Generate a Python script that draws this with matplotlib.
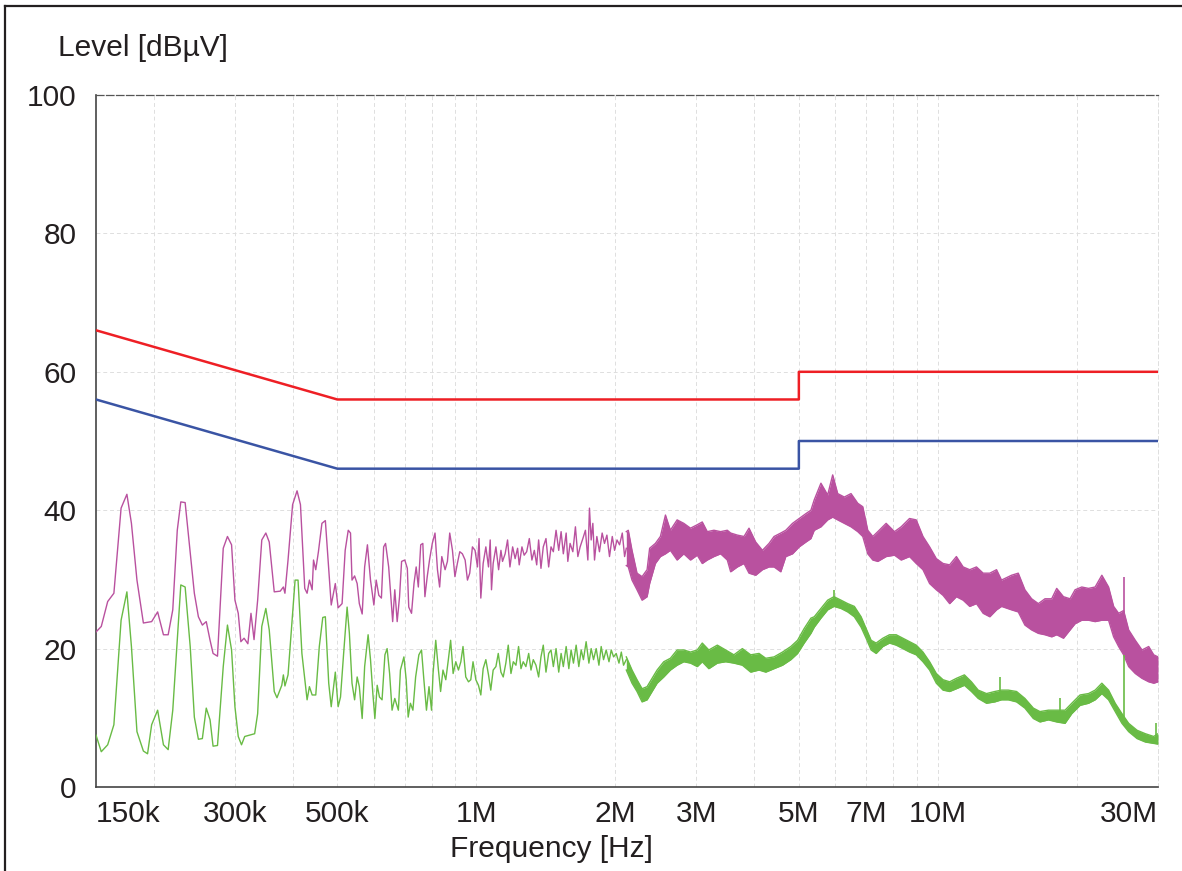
import matplotlib
matplotlib.use("Agg")
import matplotlib.pyplot as plt
from matplotlib.lines import Line2D

plt.rcParams['font.family'] = ['Liberation Sans', 'DejaVu Sans']

# limit lines (MHz, dBuV)
limit_freq = [0.15, 0.5, 5.0, 5.0, 30.0]
limit_qp = [66, 56, 56, 60, 60]
limit_avg = [56, 46, 46, 50, 50]

# peak detector trace, resolved part (MHz, dBuV)
pk_freq = [0.150, 0.154, 0.159, 0.164, 0.170, 0.175, 0.179, 0.184, 0.190, 0.198,
           0.204, 0.210, 0.215, 0.220, 0.225, 0.229, 0.234, 0.240, 0.245, 0.250,
           0.255, 0.260, 0.265, 0.269, 0.275, 0.283, 0.289, 0.295, 0.300, 0.305,
           0.309, 0.314, 0.320, 0.325, 0.330, 0.336, 0.343, 0.350, 0.356, 0.365,
           0.376, 0.382, 0.385, 0.391, 0.400, 0.409, 0.416, 0.425, 0.430, 0.435,
           0.441, 0.444, 0.449, 0.455, 0.463, 0.471, 0.479, 0.485, 0.495, 0.502,
           0.512, 0.520, 0.528, 0.534, 0.538, 0.545, 0.552, 0.558, 0.566, 0.573,
           0.581, 0.590, 0.600, 0.607, 0.615, 0.623, 0.630, 0.636, 0.646, 0.659,
           0.666, 0.674, 0.682, 0.689, 0.700, 0.709, 0.714, 0.724, 0.733, 0.741,
           0.749, 0.758, 0.766, 0.774, 0.783, 0.792, 0.803, 0.814, 0.824, 0.833,
           0.842, 0.856, 0.866, 0.876, 0.888, 0.899, 0.910, 0.921, 0.933, 0.946,
           0.957, 0.968, 0.981, 0.994, 1.006, 1.014, 1.023, 1.035, 1.049, 1.063,
           1.072, 1.079, 1.088, 1.103, 1.118, 1.131, 1.140, 1.155, 1.169, 1.183,
           1.199, 1.214, 1.229, 1.239, 1.256, 1.270, 1.286, 1.303, 1.320, 1.336,
           1.352, 1.365, 1.381, 1.397, 1.416, 1.435, 1.452, 1.469, 1.489, 1.509,
           1.527, 1.544, 1.566, 1.579, 1.597, 1.619, 1.640, 1.660, 1.679, 1.702,
           1.724, 1.745, 1.759, 1.774, 1.789, 1.804, 1.825, 1.849, 1.874, 1.896,
           1.919, 1.944, 1.971, 1.994, 2.018, 2.044, 2.072, 2.096, 2.114]
pk_level = [22.4, 23.2, 26.8, 28.0, 40.3, 42.3, 38.1, 29.9, 23.7, 23.9,
            25.3, 22.0, 22.0, 25.6, 37.1, 41.2, 41.1, 33.8, 28.0, 24.6,
            23.4, 23.9, 21.2, 19.3, 18.9, 34.5, 36.2, 35.0, 27.0, 25.1,
            21.0, 21.5, 20.7, 25.1, 21.3, 27.0, 35.7, 36.7, 35.4, 28.2,
            28.3, 28.9, 28.0, 32.8, 40.8, 42.8, 40.8, 28.7, 28.0, 29.9,
            28.5, 32.8, 31.4, 34.0, 38.1, 38.5, 31.4, 26.3, 29.4, 25.9,
            26.5, 34.2, 37.1, 36.7, 29.9, 30.5, 29.4, 26.5, 25.0, 31.8,
            35.0, 29.9, 26.3, 29.9, 27.7, 27.3, 34.7, 35.2, 31.8, 23.9,
            28.5, 23.9, 27.5, 32.6, 32.8, 31.6, 26.0, 25.1, 29.4, 31.8,
            28.9, 35.0, 35.2, 27.5, 30.4, 32.8, 35.2, 36.7, 31.4, 28.9,
            33.3, 31.4, 32.6, 36.7, 34.2, 30.4, 32.3, 34.0, 33.7, 32.8,
            29.9, 30.9, 34.7, 34.2, 31.8, 35.9, 27.3, 32.3, 34.7, 31.8,
            35.7, 28.5, 32.3, 34.7, 31.4, 34.2, 32.6, 33.7, 35.7, 31.8,
            34.7, 33.0, 34.5, 32.1, 34.7, 33.5, 34.0, 35.9, 32.8, 34.2,
            32.1, 35.7, 31.6, 34.7, 35.9, 31.8, 34.7, 34.0, 37.1, 34.2,
            36.9, 33.7, 36.7, 32.6, 35.2, 34.0, 37.6, 33.3, 34.7, 35.9,
            37.1, 32.8, 40.3, 35.7, 38.1, 32.8, 36.2, 34.0, 36.7, 35.2,
            36.4, 33.3, 36.2, 34.2, 35.7, 35.0, 36.7, 33.3, 34.5]

# peak detector trace, dense part: upper / lower edge of the noise band
pk_band_freq = [2.114, 2.135, 2.175, 2.230, 2.287, 2.345, 2.375, 2.444, 2.506, 2.570,
                2.634, 2.724, 2.816, 2.912, 3.012, 3.088, 3.166, 3.273, 3.384, 3.499,
                3.558, 3.679, 3.803, 3.899, 4.031, 4.169, 4.309, 4.418, 4.569, 4.685,
                4.845, 5.008, 5.178, 5.310, 5.399, 5.582, 5.773, 5.919, 6.069, 6.273,
                6.486, 6.708, 6.878, 7.051, 7.231, 7.414, 7.728, 8.057, 8.330, 8.685,
                8.980, 9.287, 9.600, 9.926, 10.265, 10.609, 10.972, 11.347, 11.727, 12.128,
                12.540, 12.962, 13.405, 13.742, 14.449, 14.940, 15.443, 15.969, 16.515, 17.071,
                17.651, 18.099, 18.718, 19.346, 19.837, 20.510, 21.211, 21.926, 22.671, 23.444,
                24.042, 24.648, 25.273, 25.914, 26.784, 27.700, 28.640, 29.368, 30.0]
pk_band_hi = [36.9, 37.1, 34.2, 30.9, 30.4, 31.4, 34.5, 35.2, 36.2, 39.3,
              37.1, 38.6, 38.1, 37.4, 37.9, 38.3, 36.9, 37.1, 36.9, 37.1,
              36.7, 36.4, 36.2, 37.4, 35.4, 34.2, 35.2, 36.2, 36.7, 37.1,
              38.1, 38.8, 39.5, 40.0, 41.5, 43.9, 42.2, 45.1, 42.4, 41.9,
              42.4, 41.0, 40.5, 37.1, 36.2, 36.9, 38.1, 36.9, 37.6, 38.8,
              38.6, 36.2, 34.7, 33.0, 32.3, 32.1, 33.3, 31.8, 31.4, 31.8,
              30.9, 30.9, 31.4, 29.9, 30.6, 30.9, 28.5, 27.2, 26.5, 27.2,
              27.2, 28.7, 27.5, 27.2, 28.5, 28.9, 28.7, 28.9, 30.6, 28.9,
              26.1, 25.1, 25.5, 22.7, 21.2, 19.8, 20.3, 19.1, 18.8]
pk_band_lo = [32.0, 31.8, 29.9, 28.5, 27.0, 27.5, 29.4, 32.3, 33.3, 33.7,
              34.2, 32.8, 33.7, 32.8, 33.5, 32.3, 32.8, 33.3, 33.7, 32.8,
              31.1, 31.8, 32.3, 30.9, 30.6, 31.4, 31.8, 31.8, 31.1, 33.3,
              33.7, 34.7, 35.4, 35.9, 37.1, 37.6, 38.6, 39.0, 38.6, 38.1,
              37.6, 36.9, 36.2, 33.7, 32.8, 32.6, 33.3, 33.5, 32.8, 33.3,
              32.3, 31.4, 29.4, 28.5, 27.7, 26.5, 27.5, 27.0, 26.1, 26.5,
              25.1, 24.6, 25.6, 26.1, 25.6, 25.3, 23.4, 22.7, 22.2, 22.0,
              21.7, 22.0, 21.5, 22.7, 23.6, 24.1, 24.1, 23.9, 24.1, 24.1,
              21.7, 20.3, 19.1, 17.4, 16.4, 15.7, 15.2, 15.0, 15.2]

# average detector trace, resolved part (MHz, dBuV)
av_freq = [0.150, 0.154, 0.159, 0.164, 0.170, 0.175, 0.179, 0.184, 0.190, 0.194,
           0.198, 0.204, 0.210, 0.215, 0.220, 0.229, 0.234, 0.240, 0.245, 0.250,
           0.255, 0.260, 0.265, 0.269, 0.275, 0.283, 0.289, 0.295, 0.300, 0.305,
           0.310, 0.315, 0.331, 0.336, 0.343, 0.350, 0.356, 0.365, 0.370, 0.379,
           0.382, 0.385, 0.391, 0.400, 0.405, 0.411, 0.419, 0.430, 0.435, 0.441,
           0.449, 0.457, 0.465, 0.471, 0.479, 0.485, 0.495, 0.502, 0.508, 0.516,
           0.525, 0.531, 0.538, 0.545, 0.552, 0.558, 0.566, 0.573, 0.583, 0.590,
           0.597, 0.603, 0.610, 0.617, 0.625, 0.634, 0.641, 0.649, 0.657, 0.666,
           0.678, 0.685, 0.697, 0.705, 0.712, 0.720, 0.729, 0.739, 0.751, 0.761,
           0.770, 0.780, 0.790, 0.800, 0.806, 0.817, 0.828, 0.837, 0.847, 0.859,
           0.870, 0.880, 0.891, 0.903, 0.915, 0.926, 0.936, 0.949, 0.962, 0.973,
           0.984, 0.998, 1.011, 1.023, 1.035, 1.049, 1.063, 1.075, 1.088, 1.103,
           1.116, 1.131, 1.144, 1.159, 1.173, 1.189, 1.203, 1.219, 1.235, 1.250,
           1.264, 1.281, 1.299, 1.314, 1.329, 1.347, 1.365, 1.381, 1.397, 1.416,
           1.435, 1.452, 1.469, 1.489, 1.509, 1.527, 1.544, 1.566, 1.587, 1.605,
           1.624, 1.646, 1.668, 1.688, 1.707, 1.730, 1.754, 1.774, 1.795, 1.819,
           1.844, 1.865, 1.887, 1.912, 1.939, 1.961, 1.984, 2.010, 2.038, 2.062,
           2.085, 2.114]
av_level = [7.5, 5.1, 6.1, 9.0, 24.1, 28.2, 20.3, 8.0, 5.2, 4.8,
            9.0, 11.1, 6.1, 5.4, 11.1, 29.2, 28.9, 20.3, 10.1, 6.9,
            7.0, 11.4, 9.7, 5.9, 6.0, 17.4, 23.4, 19.8, 11.6, 7.3,
            6.1, 7.3, 7.7, 10.6, 23.2, 25.8, 22.7, 13.8, 12.9, 14.7,
            16.2, 14.6, 16.2, 25.1, 29.9, 29.9, 19.3, 12.6, 14.5, 13.3,
            13.3, 20.3, 24.5, 24.6, 15.0, 11.6, 16.6, 11.6, 13.0, 19.3,
            26.0, 22.2, 15.0, 12.6, 15.9, 14.5, 9.9, 17.4, 22.0, 18.4,
            13.5, 9.9, 14.7, 13.0, 12.6, 19.1, 20.0, 16.4, 11.1, 12.8,
            11.1, 16.9, 18.8, 15.5, 10.1, 12.1, 11.1, 15.9, 19.1, 19.8,
            15.5, 11.1, 14.5, 11.1, 16.4, 21.2, 16.9, 13.8, 16.9, 15.5,
            18.4, 21.2, 16.4, 18.1, 16.9, 18.1, 20.3, 15.9, 15.2, 15.5,
            18.1, 15.5, 14.7, 13.3, 17.1, 18.4, 16.2, 14.0, 16.9, 17.4,
            19.3, 16.6, 15.9, 17.9, 20.5, 16.4, 18.1, 17.6, 20.3, 17.1,
            18.1, 17.4, 19.3, 16.9, 18.4, 17.6, 15.9, 18.8, 20.5, 16.6,
            19.3, 19.8, 17.4, 20.0, 16.6, 19.3, 17.4, 20.3, 17.1, 19.8,
            17.9, 20.5, 17.4, 19.8, 18.4, 21.0, 17.9, 20.0, 18.4, 20.0,
            17.6, 20.3, 18.4, 19.8, 18.1, 19.8, 18.8, 19.3, 17.9, 19.5,
            17.6, 18.4]

# average detector trace, dense part: upper / lower edge of the noise band
av_band_freq = [2.114, 2.175, 2.230, 2.287, 2.345, 2.404, 2.465, 2.548, 2.634, 2.724,
                2.816, 2.912, 3.012, 3.088, 3.191, 3.329, 3.470, 3.616, 3.772, 3.932,
                4.099, 4.239, 4.418, 4.609, 4.804, 4.968, 5.134, 5.310, 5.399, 5.582,
                5.773, 5.957, 6.169, 6.380, 6.594, 6.820, 6.993, 7.170, 7.352, 7.603,
                7.857, 8.126, 8.401, 8.685, 8.980, 9.287, 9.600, 9.926, 10.265, 10.609,
                10.972, 11.420, 11.826, 12.232, 12.749, 13.290, 13.742, 14.212, 14.812, 15.443,
                16.105, 16.648, 17.366, 18.099, 18.866, 19.510, 20.336, 21.211, 21.926, 22.671,
                23.444, 24.232, 25.059, 25.914, 27.019, 28.163, 29.368, 30.0]
av_band_hi = [18.8, 16.9, 15.5, 14.2, 14.5, 15.7, 16.9, 18.1, 18.6, 19.8,
              19.8, 19.5, 19.8, 20.8, 19.8, 20.5, 19.8, 19.1, 20.0, 19.1,
              19.3, 18.6, 18.8, 19.5, 20.3, 21.2, 22.9, 24.4, 24.6, 25.8,
              27.0, 27.5, 27.0, 26.5, 26.1, 24.6, 22.9, 21.2, 20.8, 21.5,
              22.0, 22.0, 21.5, 21.0, 20.5, 19.5, 18.1, 16.4, 15.5, 15.2,
              15.7, 16.2, 15.2, 14.0, 13.5, 13.8, 14.0, 14.0, 13.8, 12.8,
              11.4, 10.9, 11.1, 11.1, 11.1, 12.1, 13.3, 13.5, 14.0, 15.0,
              14.0, 12.1, 10.6, 9.2, 8.2, 7.7, 7.3, 7.7]
av_band_lo = [16.9, 15.0, 13.8, 12.3, 12.6, 13.8, 15.0, 15.9, 16.9, 17.6,
              18.1, 17.9, 17.4, 18.1, 17.1, 17.9, 18.1, 17.9, 17.6, 16.6,
              16.9, 16.6, 17.1, 17.6, 18.4, 19.3, 20.8, 22.2, 23.1, 24.4,
              25.6, 26.1, 25.8, 25.3, 24.6, 23.1, 21.5, 19.8, 19.3, 20.3,
              20.8, 20.5, 20.0, 19.5, 19.1, 18.1, 16.9, 15.0, 14.0, 13.8,
              14.2, 14.7, 13.8, 12.8, 12.1, 12.3, 12.6, 12.6, 12.3, 11.4,
              9.9, 9.4, 9.7, 9.4, 9.2, 10.6, 11.8, 12.1, 12.6, 13.5,
              12.6, 10.9, 9.2, 8.0, 7.0, 6.5, 6.3, 6.2]

# single narrow spikes sticking out of the bands
pk_spike_freq = [25.27]
pk_spike_top = [30.3]
pk_spike_base = [20.0]
av_spike_freq = [5.95, 13.63, 18.40, 25.27, 29.76]
av_spike_top = [28.5, 15.9, 12.8, 19.1, 9.3]
av_spike_base = [26.0, 12.6, 9.6, 9.0, 6.4]

tick_freq = [0.15, 0.3, 0.5, 1, 2, 3, 5, 7, 10, 30]
tick_labels = ['150k', '300k', '500k', '1M', '2M', '3M', '5M', '7M', '10M', '30M']

c_qp = '#ee1f25'
c_avg = '#3a54a4'
c_pk = '#b9519f'
c_av = '#69bb45'
c_text = '#231f20'
c_grid = '#dedede'

fig = plt.figure(figsize=(11.82, 8.71), dpi=100)
ax = fig.add_axes([96 / 1182, 1 - 787 / 871, (1158 - 96) / 1182, (787 - 95) / 871])

ax.set_xscale('log')
ax.set_xlim(0.15, 30)
ax.set_ylim(0, 100)

# grid at every 1-2-...-9 step of each decade
grid_pos = [m * 10.0 ** e for e in (-1, 0, 1) for m in range(1, 10)]
grid_pos = [g for g in grid_pos if 0.15 < g <= 30]
for g in grid_pos:
    ax.axvline(g, color=c_grid, lw=0.7, ls=(0, (4, 3)), zorder=0)
for y in (20, 40, 60, 80):
    ax.axhline(y, color=c_grid, lw=0.7, ls=(0, (4, 3)), zorder=0)

# limits
ax.plot(limit_freq, limit_qp, color=c_qp, lw=1.8, zorder=4)
ax.plot(limit_freq, limit_avg, color=c_avg, lw=1.8, zorder=4)

# peak trace
ax.plot(pk_freq, pk_level, color=c_pk, lw=1.0, zorder=3)
ax.fill_between(pk_band_freq, pk_band_lo, pk_band_hi, color=c_pk, lw=0, zorder=3)
ax.plot(pk_band_freq, pk_band_hi, color=c_pk, lw=1.0, zorder=3)
ax.plot(pk_band_freq, pk_band_lo, color=c_pk, lw=1.0, zorder=3)
ax.vlines(pk_spike_freq, pk_spike_base, pk_spike_top, color=c_pk, lw=1.2, zorder=3)

# average trace
ax.plot(av_freq, av_level, color=c_av, lw=1.0, zorder=3)
ax.fill_between(av_band_freq, av_band_lo, av_band_hi, color=c_av, lw=0, zorder=3)
ax.plot(av_band_freq, av_band_hi, color=c_av, lw=1.0, zorder=3)
ax.plot(av_band_freq, av_band_lo, color=c_av, lw=1.0, zorder=3)
ax.vlines(av_spike_freq, av_spike_base, av_spike_top, color=c_av, lw=1.2, zorder=3)

# axes frame
for side in ('left', 'bottom'):
    ax.spines[side].set_color('#444444')
    ax.spines[side].set_linewidth(1.2)
ax.spines['top'].set_color('#555555')
ax.spines['top'].set_linewidth(0.9)
ax.spines['top'].set_linestyle((0, (6, 2)))
ax.spines['right'].set_color(c_grid)
ax.spines['right'].set_linewidth(0.7)
ax.spines['right'].set_linestyle((0, (4, 3)))

ax.xaxis.set_minor_locator(matplotlib.ticker.NullLocator())
ax.set_xticks(tick_freq)
ax.set_xticklabels(tick_labels)
ax.set_yticks([0, 20, 40, 60, 80, 100])
ax.tick_params(axis='both', length=0, labelsize=21.5, colors=c_text)
ax.tick_params(axis='x', pad=9)
ax.tick_params(axis='y', pad=14)
labels = ax.get_xticklabels()
labels[0].set_ha('left')
labels[-1].set_ha('right')

fig.text(58 / 1182, 1 - 48 / 871, 'Level [dBµV]', fontsize=21.5, color=c_text,
         ha='left', va='center')
fig.text(551 / 1182, 1 - 849 / 871, 'Frequency [Hz]', fontsize=21.5, color=c_text,
         ha='center', va='center')

# outer frame, top and left edge
fig.add_artist(Line2D([5 / 1182, 1], [1 - 6 / 871, 1 - 6 / 871], color='#231f20', lw=1.6,
                      transform=fig.transFigure))
fig.add_artist(Line2D([5 / 1182, 5 / 1182], [0, 1 - 6 / 871], color='#231f20', lw=1.6,
                      transform=fig.transFigure))

fig.savefig('out.png', dpi=100)
